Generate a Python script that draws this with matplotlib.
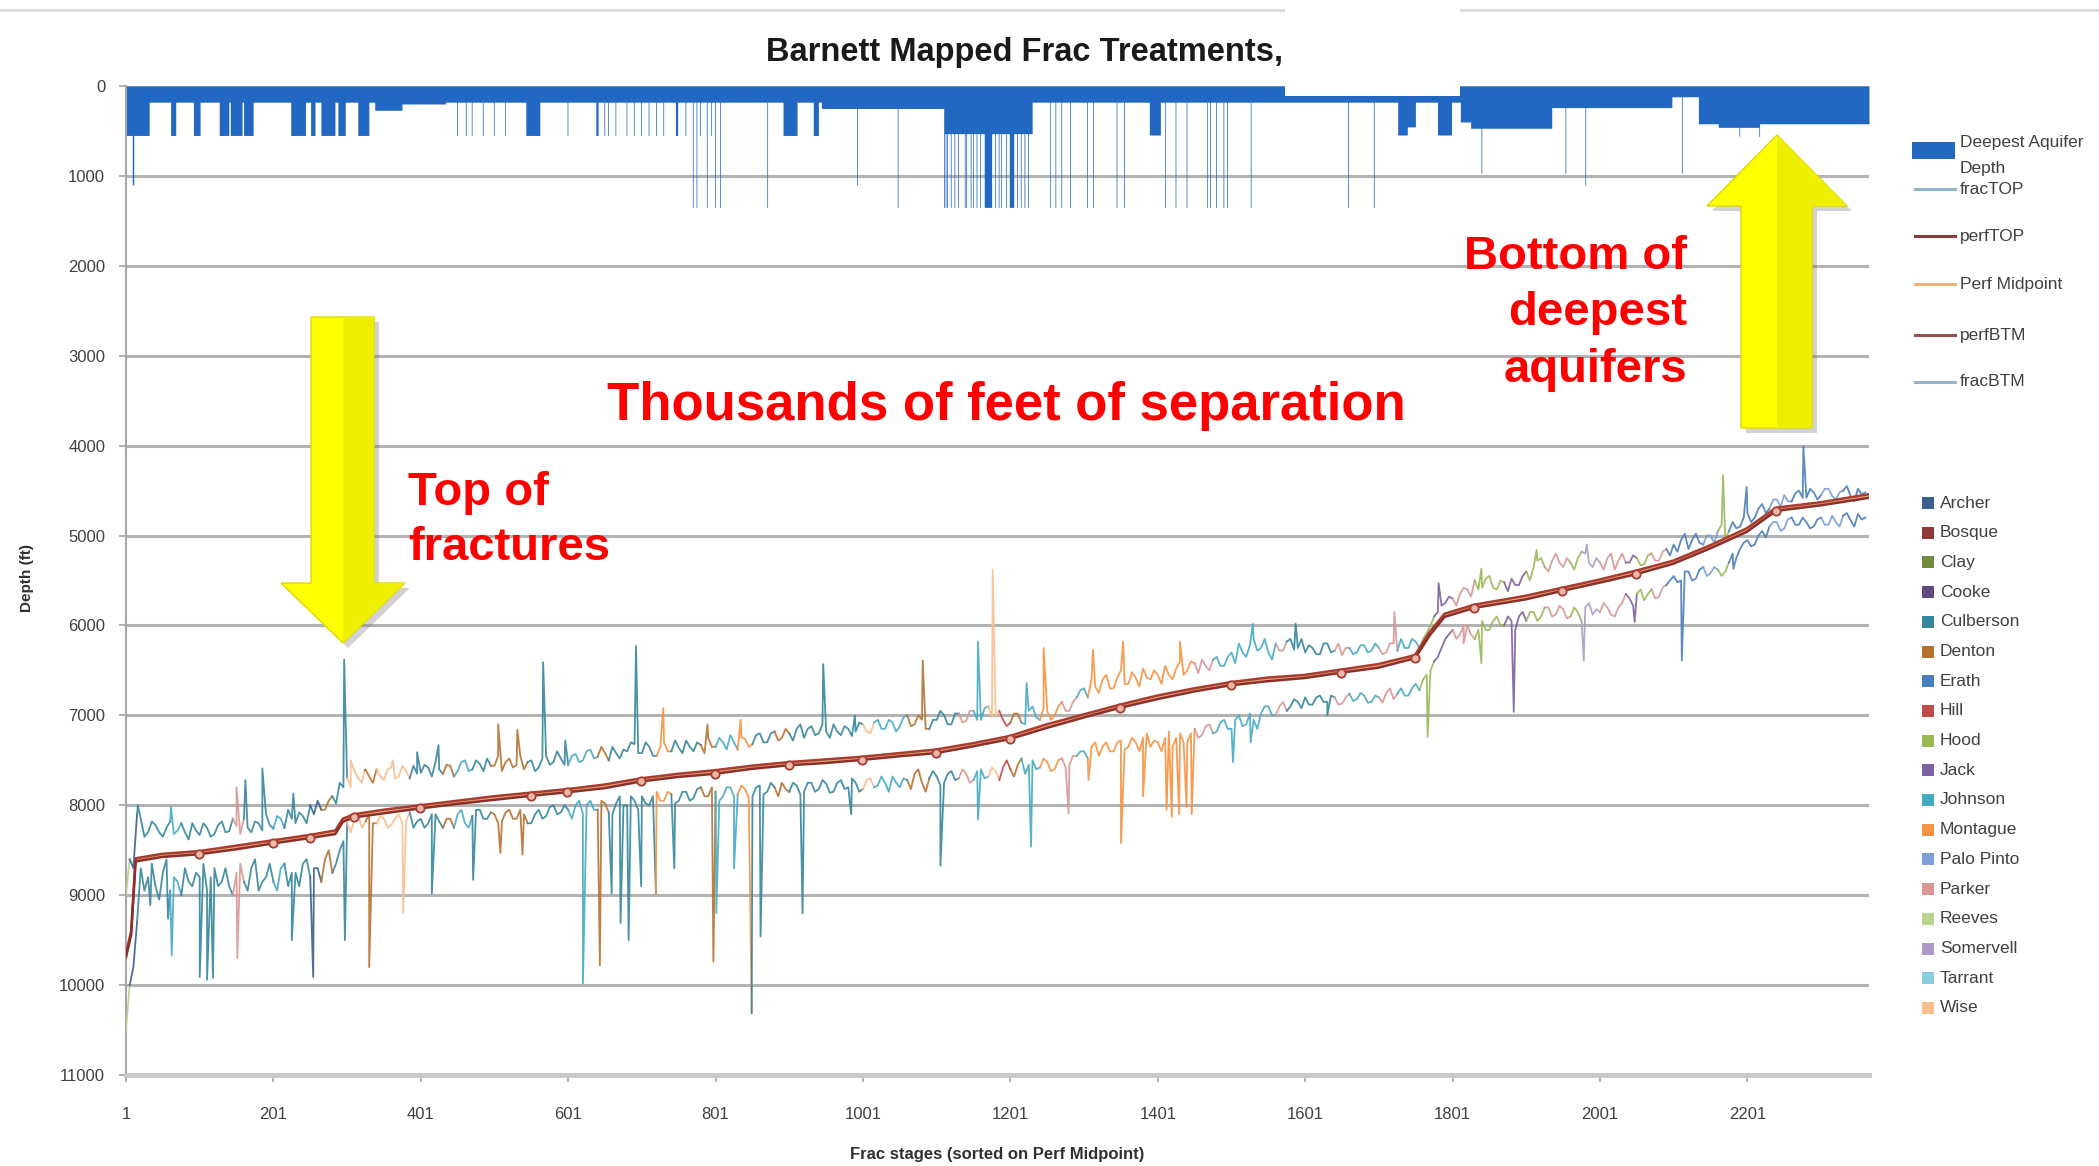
import numpy as np
import matplotlib
matplotlib.use("Agg")
import matplotlib.pyplot as plt
from matplotlib.patches import Polygon, Rectangle
from matplotlib.lines import Line2D

plt.rcParams['font.family'] = ['Liberation Sans', 'DejaVu Sans']

# ---------------- data ----------------
N_STAGES = 2366
x_ticks = [1, 201, 401, 601, 801, 1001, 1201, 1401, 1601, 1801, 2001, 2201]
y_ticks = [0, 1000, 2000, 3000, 4000, 5000, 6000, 7000, 8000, 9000, 10000, 11000]

# frac top / bottom read every 5 stages (1, 6, 11, ... 2361)
frac_stage = list(range(1, 2362, 5))
frac_top = [
    9000, 8600, 8700, 8100, 8150, 8350, 8300, 8180, 8220, 8300, 8350, 8250, 8180, 8320, 8280, 8200, 8300, 8380, 8200, 8280,
    8330, 8200, 8250, 8350, 8320, 8220, 8180, 8300, 8290, 8150, 8230, 8320, 8150, 8250, 8300, 8180, 8200, 8280, 8100, 8220,
    8260, 8120, 8150, 8250, 8050, 8150, 8200, 8080, 8120, 8200, 8000, 8100, 7950, 8050, 8050, 7950, 7900, 7980, 7750, 7800,
    7700, 7800, 7620, 7700, 7750, 7600, 7680, 7750, 7600, 7680, 7720, 7600, 7580, 7700, 7680, 7560, 7620, 7700, 7560, 7650,
    7640, 7550, 7580, 7680, 7520, 7600, 7650, 7550, 7560, 7680, 7620, 7520, 7500, 7620, 7600, 7500, 7540, 7620, 7480, 7560,
    7560, 7450, 7620, 7520, 7480, 7580, 7550, 7450, 7600, 7520, 7500, 7620, 7580, 7480, 7450, 7550, 7520, 7400, 7480, 7550,
    7550, 7450, 7430, 7520, 7500, 7400, 7380, 7480, 7460, 7350, 7420, 7500, 7350, 7420, 7480, 7380, 7400, 7300, 7320, 7420,
    7420, 7300, 7350, 7450, 7450, 7350, 7300, 7400, 7400, 7280, 7360, 7420, 7280, 7350, 7400, 7300, 7330, 7420, 7250, 7350,
    7350, 7250, 7300, 7380, 7220, 7300, 7380, 7250, 7260, 7350, 7320, 7220, 7200, 7300, 7300, 7200, 7180, 7280, 7250, 7150,
    7200, 7280, 7150, 7100, 7250, 7150, 7120, 7220, 7200, 7100, 7180, 7250, 7100, 7180, 7220, 7120, 7150, 7230, 7180, 7080,
    7100, 7180, 7200, 7080, 7050, 7150, 7150, 7050, 7080, 7180, 7120, 7020, 7000, 7120, 7100, 7000, 7050, 7150, 7150, 7050,
    7050, 6950, 7000, 7100, 7100, 6980, 6980, 7080, 7060, 6950, 6950, 7050, 7050, 6920, 6900, 7020, 7000, 6950, 7050, 7120,
    7080, 6980, 6980, 7080, 7100, 6950, 6900, 7020, 7050, 6920, 6950, 7050, 7000, 6900, 6850, 6950, 6950, 6850, 6800, 6720,
    6700, 6800, 6600, 6680, 6750, 6600, 6550, 6700, 6700, 6580, 6500, 6650, 6650, 6520, 6580, 6680, 6480, 6580, 6600, 6500,
    6550, 6650, 6450, 6550, 6600, 6480, 6400, 6550, 6500, 6400, 6420, 6530, 6380, 6450, 6500, 6380, 6350, 6450, 6450, 6350,
    6300, 6420, 6200, 6300, 6350, 6220, 6150, 6280, 6250, 6150, 6300, 6380, 6200, 6280, 6280, 6180, 6150, 6270, 6250, 6150,
    6300, 6220, 6250, 6320, 6320, 6200, 6200, 6300, 6280, 6200, 6330, 6250, 6250, 6320, 6300, 6220, 6220, 6300, 6280, 6200,
    6250, 6320, 6300, 6200, 6200, 6280, 6150, 6250, 6250, 6150, 6180, 6250, 6150, 6080, 6000, 5900, 5850, 5780, 5750, 5680,
    5700, 5780, 5650, 5580, 5600, 5680, 5500, 5600, 5580, 5480, 5450, 5580, 5600, 5500, 5520, 5620, 5480, 5550, 5550, 5450,
    5400, 5500, 5350, 5280, 5250, 5350, 5400, 5280, 5200, 5300, 5350, 5250, 5300, 5380, 5250, 5180, 5200, 5300, 5350, 5250,
    5300, 5380, 5250, 5200, 5380, 5280, 5200, 5300, 5300, 5220, 5250, 5330, 5320, 5220, 5200, 5280, 5280, 5180, 5150, 5220,
    5100, 5180, 5050, 4980, 5150, 5050, 4980, 5080, 5100, 5000, 5000, 5080, 4950, 4880, 5050, 4950, 4850, 4920, 4900, 4800,
    4750, 4850, 4800, 4700, 4650, 4750, 4700, 4600, 4600, 4680, 4550, 4620, 4620, 4530, 4500, 4580, 4580, 4480, 4520, 4600,
    4550, 4480, 4480, 4560, 4600, 4520, 4500, 4450, 4560, 4620, 4480, 4540, 4520]
frac_btm = [
    10500, 10000, 9800, 9300, 8700, 8950, 8800, 8650, 8900, 9050, 8750, 8600, 8950, 8800, 8850, 9000, 8700, 8850, 8900, 8750,
    8800, 8650, 8950, 8800, 8700, 8900, 8850, 8700, 8900, 9000, 8750, 8650, 8850, 8950, 8700, 8600, 8950, 8850, 8800, 8650,
    8850, 8950, 8700, 8650, 8900, 8750, 8750, 8900, 8650, 8600, 8800, 8700, 8700, 8850, 8600, 8500, 8750, 8650, 8500, 8400,
    8200, 8300, 8150, 8100, 8250, 8180, 8100, 8200, 8200, 8120, 8150, 8250, 8220, 8150, 8100, 8200, 8180, 8080, 8250, 8180,
    8150, 8250, 8200, 8100, 8100, 8180, 8250, 8150, 8150, 8250, 8100, 8050, 8200, 8250, 8120, 8050, 8050, 8150, 8150, 8080,
    8100, 8200, 8180, 8080, 8050, 8150, 8150, 8050, 8100, 8200, 8200, 8100, 8050, 8150, 8120, 8020, 8000, 8100, 8080, 8000,
    8050, 8150, 8000, 7950, 8100, 8000, 7950, 8050, 8050, 7950, 7980, 8080, 8100, 7980, 7900, 8000, 8000, 7900, 7950, 8050,
    7900, 7980, 8000, 7900, 7850, 7950, 7950, 7850, 7880, 7980, 7950, 7850, 7850, 7950, 7920, 7820, 7800, 7900, 7900, 7800,
    7850, 7950, 7900, 7800, 7800, 7900, 7880, 7780, 7820, 7920, 7900, 7800, 7780, 7880, 7850, 7750, 7800, 7900, 7750, 7820,
    7850, 7750, 7780, 7880, 7850, 7750, 7750, 7850, 7820, 7720, 7760, 7860, 7850, 7750, 7720, 7820, 7800, 7700, 7750, 7850,
    7820, 7720, 7700, 7800, 7780, 7680, 7750, 7850, 7680, 7750, 7800, 7700, 7720, 7820, 7650, 7600, 7750, 7850, 7700, 7620,
    7680, 7780, 7750, 7650, 7620, 7720, 7700, 7600, 7650, 7750, 7720, 7620, 7600, 7700, 7680, 7580, 7620, 7720, 7580, 7500,
    7600, 7680, 7550, 7480, 7650, 7550, 7500, 7600, 7580, 7480, 7520, 7620, 7600, 7500, 7480, 7580, 7550, 7450, 7450, 7400,
    7400, 7480, 7350, 7300, 7450, 7350, 7300, 7400, 7400, 7300, 7280, 7380, 7350, 7250, 7300, 7400, 7250, 7200, 7350, 7280,
    7300, 7400, 7250, 7180, 7350, 7250, 7200, 7300, 7300, 7200, 7150, 7250, 7220, 7120, 7100, 7200, 7180, 7080, 7050, 7150,
    7150, 7050, 7000, 7120, 7100, 6980, 7050, 7150, 6980, 6900, 6900, 7000, 7000, 6900, 6850, 6950, 6900, 6820, 6850, 6920,
    6800, 6880, 6880, 6800, 6780, 6850, 6850, 6780, 6800, 6880, 6870, 6800, 6760, 6840, 6820, 6750, 6780, 6860, 6850, 6780,
    6800, 6860, 6750, 6700, 6820, 6760, 6700, 6780, 6780, 6700, 6650, 6720, 6600, 6550, 6500, 6400, 6350, 6250, 6150, 6100,
    6050, 6150, 6100, 6000, 6000, 6100, 6150, 6050, 5950, 6050, 6050, 5950, 5900, 6000, 6000, 5900, 5950, 6050, 5900, 5850,
    5950, 5850, 5850, 5950, 5900, 5800, 5800, 5900, 5880, 5780, 5820, 5920, 5900, 5800, 5850, 5950, 5800, 5750, 5880, 5820,
    5850, 5750, 5800, 5880, 5900, 5800, 5750, 5650, 5700, 5780, 5650, 5600, 5720, 5650, 5600, 5700, 5680, 5580, 5550, 5500,
    5450, 5520, 5500, 5400, 5400, 5500, 5480, 5380, 5350, 5450, 5420, 5350, 5380, 5450, 5400, 5300, 5200, 5250, 5150, 5080,
    5050, 5120, 5100, 5000, 4950, 5020, 4900, 4850, 4850, 4950, 4920, 4820, 4800, 4880, 4880, 4800, 4850, 4920, 4900, 4820,
    4800, 4880, 4880, 4780, 4850, 4900, 4780, 4750, 4830, 4900, 4760, 4820, 4800]

top_spike_stage = [17, 62, 151, 163, 186, 228, 297, 306, 325, 363, 396, 425, 506, 532,
                   567, 597, 693, 730, 790, 835, 947, 990, 1082, 1157, 1177, 1223, 1246,
                   1313, 1354, 1431, 1530, 1588, 1722, 1782, 1840, 1915, 1983, 2168,
                   2200, 2277]
top_spike_depth = [8000, 8020, 7800, 7720, 7590, 7870, 6380, 7500, 7610, 7500, 7410, 7330,
                   7100, 7160, 6410, 7280, 6230, 6920, 7100, 7050, 6430, 7000, 6390, 6180,
                   5380, 6640, 6250, 6270, 6180, 6180, 5980, 5980, 5850, 5530, 5370, 5160,
                   5100, 4330, 4460, 4010]
btm_spike_stage = [34, 58, 63, 101, 111, 119, 152, 226, 255, 298, 331, 377, 416, 472, 509,
                   539, 621, 644, 660, 672, 683, 700, 720, 745, 798, 802, 826, 850, 862,
                   919, 985, 1106, 1157, 1229, 1280, 1307, 1351, 1381, 1413, 1420, 1430,
                   1440, 1447, 1503, 1527, 1631, 1767, 1816, 1840, 1884, 1979, 2048, 2112,
                   2182]
btm_spike_depth = [9110, 9260, 9670, 9910, 9940, 9920, 9700, 9500, 9910, 9500, 9800, 9200,
                   8980, 8830, 8530, 8550, 9980, 9780, 8980, 9310, 9500, 8900, 8980, 8700,
                   9740, 9200, 8700, 10310, 9460, 9200, 8100, 8670, 8160, 8460, 8090, 7720,
                   8420, 7900, 8050, 8130, 8100, 8020, 8100, 7520, 7300, 7000, 7240, 6200,
                   6420, 6960, 6390, 5960, 6390, 5370]

county_names = ['Archer', 'Bosque', 'Clay', 'Cooke', 'Culberson', 'Denton', 'Erath', 'Hill',
                'Hood', 'Jack', 'Johnson', 'Montague', 'Palo Pinto', 'Parker', 'Reeves',
                'Somervell', 'Tarrant', 'Wise']
county_colors = ['#3b5f8f', '#8e3a38', '#728a3e', '#5d4a7a', '#35869c', '#b8702e', '#4a7dbb',
                 '#be4b48', '#98b954', '#7d60a0', '#46aac5', '#f69240', '#7c9fd6', '#d99694',
                 '#b9d48f', '#ad9bc8', '#8ccbe0', '#f9be8c']

run_start = [1, 6, 16, 60, 75, 145, 158, 200, 215, 250, 262, 280, 300, 322, 338, 385, 428,
             445, 470, 495, 545, 600, 640, 655, 720, 740, 780, 800, 830, 850, 880, 900,
             1000, 1015, 1060, 1090, 1130, 1150, 1170, 1185, 1200, 1215, 1240, 1270, 1290,
             1305, 1450, 1475, 1560, 1575, 1640, 1660, 1700, 1725, 1755, 1775, 1800, 1830,
             1870, 1900, 1925, 1960, 1975, 2000, 2035, 2050, 2070, 2090, 2140, 2160, 2175,
             2230, 2260, 2300, 2330]
run_county = ['Reeves', 'Archer', 'Culberson', 'Johnson', 'Culberson', 'Parker', 'Culberson',
              'Johnson', 'Culberson', 'Archer', 'Denton', 'Culberson', 'Wise', 'Denton',
              'Wise', 'Culberson', 'Denton', 'Johnson', 'Culberson', 'Denton', 'Culberson',
              'Johnson', 'Denton', 'Culberson', 'Montague', 'Culberson', 'Denton', 'Johnson',
              'Montague', 'Culberson', 'Denton', 'Culberson', 'Wise', 'Johnson', 'Denton',
              'Culberson', 'Parker', 'Johnson', 'Wise', 'Hill', 'Denton', 'Johnson',
              'Montague', 'Parker', 'Johnson', 'Montague', 'Parker', 'Johnson', 'Parker',
              'Culberson', 'Parker', 'Johnson', 'Parker', 'Johnson', 'Hood', 'Jack',
              'Parker', 'Hood', 'Jack', 'Hood', 'Parker', 'Hood', 'Somervell', 'Parker',
              'Jack', 'Hood', 'Parker', 'Erath', 'Palo Pinto', 'Hood', 'Erath',
              'Palo Pinto', 'Erath', 'Palo Pinto', 'Erath']

perf_stage = [1, 8, 14, 50, 100, 150, 200, 250, 285, 295, 310, 350, 400, 450, 500, 550, 600,
              650, 700, 750, 800, 850, 900, 950, 1000, 1050, 1100, 1150, 1200, 1250, 1300,
              1350, 1400, 1450, 1500, 1550, 1600, 1650, 1700, 1750, 1770, 1790, 1830, 1900,
              1950, 2000, 2050, 2100, 2150, 2200, 2240, 2300, 2366]
perf_top = [9650, 9400, 8590, 8540, 8510, 8450, 8390, 8330, 8280, 8150, 8100, 8050, 8000,
            7950, 7900, 7860, 7820, 7770, 7700, 7650, 7610, 7560, 7520, 7490, 7460, 7420,
            7380, 7310, 7230, 7100, 6990, 6880, 6780, 6700, 6630, 6580, 6550, 6490, 6430,
            6330, 6070, 5870, 5770, 5670, 5580, 5490, 5390, 5280, 5110, 4920, 4690, 4630,
            4540]
perf_btm = [9690, 9440, 8625, 8575, 8545, 8490, 8425, 8365, 8320, 8185, 8135, 8090, 8035,
            7985, 7940, 7895, 7855, 7810, 7735, 7685, 7650, 7595, 7555, 7530, 7495, 7455,
            7420, 7345, 7265, 7140, 7025, 6915, 6820, 6735, 6665, 6620, 6585, 6525, 6470,
            6365, 6110, 5905, 5805, 5710, 5615, 5525, 5430, 5315, 5145, 4960, 4725, 4665,
            4580]
perf_marker_idx = [4, 6, 7, 10, 12, 15, 16, 18, 20, 22, 24, 26, 28, 31, 34, 37, 39, 42, 44,
                   46, 50]

aq_base_depth = 180
aq_run_start = [1, 62, 93, 128, 143, 161, 225, 252, 266, 289, 316, 339, 376, 544, 639, 747,
                893, 934, 945, 1111, 1166, 1200, 1390, 1727, 1740, 1781, 1812, 1826, 1936,
                2099, 2135, 2162, 2217]
aq_run_end = [32, 68, 101, 140, 158, 173, 244, 257, 284, 298, 330, 375, 434, 562, 641, 749,
              911, 940, 1110, 1230, 1175, 1205, 1404, 1740, 1750, 1799, 1826, 1936, 2099,
              2135, 2162, 2217, 2366]
aq_run_depth = [550, 550, 550, 550, 550, 550, 550, 550, 550, 550, 550, 270, 200, 550, 550,
                550, 550, 550, 250, 530, 1350, 1350, 545, 545, 455, 545, 400, 470, 240, 120,
                420, 460, 420]
aq_spike_stage = [10, 11, 450, 462, 470, 485, 500, 515, 600, 650, 655, 665, 680, 690, 700,
                  710, 720, 730, 760, 770, 775, 780, 789, 795, 800, 807, 871, 993, 1048,
                  1111, 1113, 1115, 1120, 1125, 1130, 1139, 1141, 1147, 1150, 1155, 1160,
                  1180, 1185, 1188, 1195, 1210, 1215, 1220, 1225, 1255, 1262, 1270, 1282,
                  1305, 1313, 1345, 1355, 1411, 1425, 1440, 1468, 1472, 1480, 1490, 1495,
                  1527, 1659, 1694, 1840, 1954, 1981, 2112, 2190, 2217]
aq_spike_depth = [1100, 1100, 550, 550, 550, 550, 550, 550, 550, 550, 550, 550, 550, 550,
                  550, 550, 550, 550, 550, 1350, 1350, 550, 1350, 550, 1350, 1350, 1350,
                  1100, 1350, 1350, 1350, 1350, 1350, 1350, 1350, 1350, 1350, 1350, 1350,
                  1350, 1350, 1350, 1350, 1350, 1350, 1350, 1350, 1350, 1350, 1350, 1350,
                  1350, 1350, 1350, 1350, 1350, 1350, 1350, 1350, 1350, 1350, 1350, 1350,
                  1350, 1350, 1350, 1350, 1350, 970, 970, 1100, 970, 560, 560]

series_legend = ['fracTOP', 'perfTOP', 'Perf Midpoint', 'perfBTM', 'fracBTM']
series_colors = ['#8fb6cc', '#8e3b3b', '#f0b27a', '#94504e', '#8fb6cc']

# ---------------- figure ----------------
W, H = 2099, 1166
fig = plt.figure(figsize=(W / 100, H / 100), dpi=100)
fig.patch.set_facecolor('white')


def fx(px):
    return px / W


def fy(py):
    return 1 - py / H


ax = fig.add_axes([fx(126), fy(1075), (1869 - 126) / W, (1075 - 86) / H])
ax.set_xlim(1, N_STAGES)
ax.set_ylim(11000, 0)
ax.set_axisbelow(True)

# deepest aquifer area
stages = np.arange(1, N_STAGES + 1)
aq = np.full(N_STAGES, float(aq_base_depth))
for a, b, d in zip(aq_run_start, aq_run_end, aq_run_depth):
    aq[a - 1:b] = d
for s, d in zip(aq_spike_stage, aq_spike_depth):
    aq[s - 1] = d
ax.fill_between(stages, 0, aq, step='mid', color='#2267c2', lw=0, zorder=2)

color_of = dict(zip(county_names, county_colors))


def merged(base_s, base_v, sp_s, sp_v):
    s = np.array(list(base_s) + list(sp_s))
    v = np.array(list(base_v) + list(sp_v), dtype=float)
    o = np.argsort(s, kind='stable')
    return s[o], v[o]


for s, v in (merged(frac_stage, frac_top, top_spike_stage, top_spike_depth),
             merged(frac_stage, frac_btm, btm_spike_stage, btm_spike_depth)):
    ci = np.searchsorted(run_start, s, side='right') - 1
    names = [run_county[k] for k in ci]
    i = 0
    while i < len(s):
        j = i
        while j + 1 < len(s) and names[j + 1] == names[i]:
            j += 1
        seg = slice(i, min(j + 2, len(s)))
        ax.plot(s[seg], v[seg], color=color_of[names[i]], lw=1.3, zorder=3, alpha=0.9)
        i = j + 1

perf_mid = [(a + b) / 2 for a, b in zip(perf_top, perf_btm)]
ax.plot(perf_stage, perf_mid, color='#f0b27a', lw=1.2, zorder=4)
ax.plot(perf_stage, perf_top, color='#a83c30', lw=1.8, zorder=5)
ax.plot(perf_stage, perf_btm, color='#8c2e2a', lw=1.8, zorder=5, marker='o',
        markevery=perf_marker_idx, ms=6, mfc='#ebb9aa', mec='#a83c30', mew=1.3)

# axes styling
ax.set_yticks(y_ticks)
ax.set_yticklabels([str(t) for t in y_ticks])
ax.set_xticks(x_ticks)
ax.set_xticklabels([str(t) for t in x_ticks])
ax.yaxis.grid(True, color='#b3b3b3', lw=2.2)
ax.xaxis.grid(False)
for side in ('top', 'right'):
    ax.spines[side].set_visible(False)
ax.spines['left'].set_color('#a6a6a6')
ax.spines['left'].set_linewidth(1.5)
ax.spines['bottom'].set_color('#c8c8c8')
ax.spines['bottom'].set_linewidth(3.5)
ax.tick_params(axis='y', length=5, width=1.2, color='#a6a6a6', pad=10,
               labelsize=12, labelcolor='#404040')
ax.tick_params(axis='x', length=5, width=1.2, color='#a6a6a6', pad=18,
               labelsize=12, labelcolor='#404040')

fig.text(fx(27), fy(578), 'Depth (ft)', rotation=90, ha='center', va='center',
         fontsize=11, fontweight='bold', color='#303030')
fig.text(fx(997), fy(1154), 'Frac stages (sorted on Perf Midpoint)', ha='center',
         va='center', fontsize=12, fontweight='bold', color='#303030')

# title and slide decorations
fig.text(fx(766), fy(52), 'Barnett Mapped Frac Treatments,', ha='left', va='center',
         fontsize=23.5, fontweight='bold', color='#1a1a1a')
fig.add_artist(Line2D([fx(0), fx(1285)], [fy(10), fy(10)], color='#d9d9d9', lw=2))
fig.add_artist(Line2D([fx(1460), fx(2099)], [fy(10), fy(10)], color='#d9d9d9', lw=2))
fig.add_artist(Rectangle((fx(1285), fy(96)), (1460 - 1285) / W, (96 - 8) / H,
                         transform=fig.transFigure, facecolor='white', edgecolor='none',
                         zorder=10))

# series legend
fig.add_artist(Rectangle((fx(1912), fy(159)), 43 / W, 17 / H, transform=fig.transFigure,
                         facecolor='#2267c2', edgecolor='none'))
leg_font = dict(fontsize=12.5, color='#404040', va='center', ha='left')
fig.text(fx(1960), fy(142), 'Deepest Aquifer', **leg_font)
fig.text(fx(1960), fy(168), 'Depth', **leg_font)
for name, col, yy in zip(series_legend, series_colors, [189, 236, 284, 335, 382]):
    fig.add_artist(Line2D([fx(1915), fx(1955)], [fy(yy), fy(yy)], color=col, lw=2.2))
    fig.text(fx(1960), fy(yy), name, **leg_font)

# county legend
for k, (name, col) in enumerate(zip(county_names, county_colors)):
    yy = 503 + k * 29.7
    fig.add_artist(Rectangle((fx(1922), fy(yy + 6)), 12 / W, 12 / H,
                             transform=fig.transFigure, facecolor=col, edgecolor='none'))
    fig.text(fx(1940), fy(yy), name, **leg_font)

# yellow arrows with a soft bevel


def poly(pts, z, **kw):
    fig.add_artist(Polygon([(fx(x), fy(y)) for x, y in pts], closed=True,
                           transform=fig.transFigure, zorder=z, **kw))


def arrow(pts, right_half, z=9):
    poly([(x + 5, y + 5) for x, y in pts], z - 1, facecolor='#7f7f7f', alpha=0.35,
         edgecolor='none')
    poly(pts, z, facecolor='#ffff00', edgecolor='#d9d900', lw=1)
    poly(right_half, z + 0.5, facecolor='#eeee00', edgecolor='none')


arrow([(311, 317), (374, 317), (374, 583), (405, 583), (343, 643), (281, 583), (311, 583)],
      [(343, 317), (374, 317), (374, 583), (405, 583), (343, 643)])
arrow([(1741, 428), (1812, 428), (1812, 206), (1847, 206), (1777, 135), (1707, 206),
       (1741, 206)],
      [(1777, 428), (1812, 428), (1812, 206), (1847, 206), (1777, 135)])

# red annotations
red = dict(color='#ff0000', fontweight='bold', va='baseline', zorder=11)
fig.text(fx(1006), fy(420), 'Thousands of feet of separation', ha='center', fontsize=38,
         **red)
fig.text(fx(408), fy(505), 'Top of', ha='left', fontsize=34, **red)
fig.text(fx(408), fy(560), 'fractures', ha='left', fontsize=34, **red)
fig.text(fx(1687), fy(269), 'Bottom of', ha='right', fontsize=34, **red)
fig.text(fx(1687), fy(325), 'deepest', ha='right', fontsize=34, **red)
fig.text(fx(1687), fy(382), 'aquifers', ha='right', fontsize=34, **red)

fig.savefig('out.png', dpi=100, facecolor='white')
